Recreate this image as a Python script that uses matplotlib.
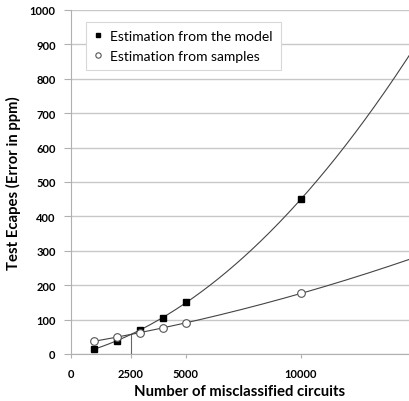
import matplotlib.pyplot as plt
import numpy as np

# data
circuits = [1000, 2000, 3000, 4000, 5000, 10000]
model_est = [15, 37, 70, 106, 150, 450]
sample_est = [37, 50, 60, 77, 91, 176]
x_max = 14700
y_ticks = [0, 100, 200, 300, 400, 500, 600, 700, 800, 900, 1000]

plt.rcParams['font.family'] = ['Lato', 'DejaVu Sans']

fig = plt.figure(figsize=(4.09, 4.02), dpi=100)
ax = fig.add_axes([71 / 409, 47 / 402, 338 / 409, 344 / 402])

# polynomial trendlines (as in the spreadsheet chart)
p_model = np.polyfit(circuits, model_est, 2)
p_sample = np.polyfit(circuits, sample_est, 2)
xs = np.linspace(circuits[0], x_max, 300)
ax.plot(xs, np.polyval(p_model, xs), color='#444444', lw=0.8, zorder=3)
ax.plot(xs, np.polyval(p_sample, xs), color='#444444', lw=0.8, zorder=3)

# crossing of the two curves
r = np.roots(p_model - p_sample)
r = r[np.isreal(r)].real
x_cross = r[(r > circuits[0]) & (r < circuits[-1])][0]
y_cross = np.polyval(p_model, x_cross)
ax.plot([x_cross, x_cross], [0, y_cross], color='#666666', lw=0.8, zorder=2)

ax.plot(circuits, model_est, ls='none', marker='s', ms=5, color='black',
        label='Estimation from the model', zorder=4)
ax.plot(circuits, sample_est, ls='none', marker='o', ms=5.5, mfc='white',
        mec='#555555', mew=0.8, label='Estimation from samples', zorder=4)

ax.set_xlim(0, x_max)
ax.set_ylim(0, 1000)
ax.set_yticks(y_ticks)
ax.set_xticks([0, x_cross, 5000, 10000])
ax.set_xticklabels(['0', '2500', '5000', '10000'])
for lab in ax.get_xticklabels() + ax.get_yticklabels():
    lab.set_fontweight('bold')
    lab.set_fontsize(8)

ax.grid(axis='y', color='#c8c8c8', lw=1)
ax.set_axisbelow(True)
for s in ['top', 'right']:
    ax.spines[s].set_visible(False)
ax.spines['left'].set_color('#b0b0b0')
ax.spines['bottom'].set_color('#b0b0b0')
ax.tick_params(axis='y', length=5, color='#b0b0b0', pad=6)
ax.tick_params(axis='x', length=3, color='#b0b0b0', pad=7)

ax.set_xlabel('Number of misclassified circuits', fontsize=10.7, fontweight='bold', labelpad=4)
ax.set_ylabel('Test Ecapes (Error in ppm)', fontsize=10.7, fontweight='bold', labelpad=6)

leg = ax.legend(loc='upper left', bbox_to_anchor=(0.024, 0.985), fontsize=10,
                fancybox=False, edgecolor='#d8d8d8', framealpha=1,
                handlelength=0.6, handletextpad=0.6, markerscale=0.7,
                borderpad=0.55, labelspacing=0.6)
leg.get_frame().set_linewidth(0.8)

fig.savefig('out.png', dpi=100)
